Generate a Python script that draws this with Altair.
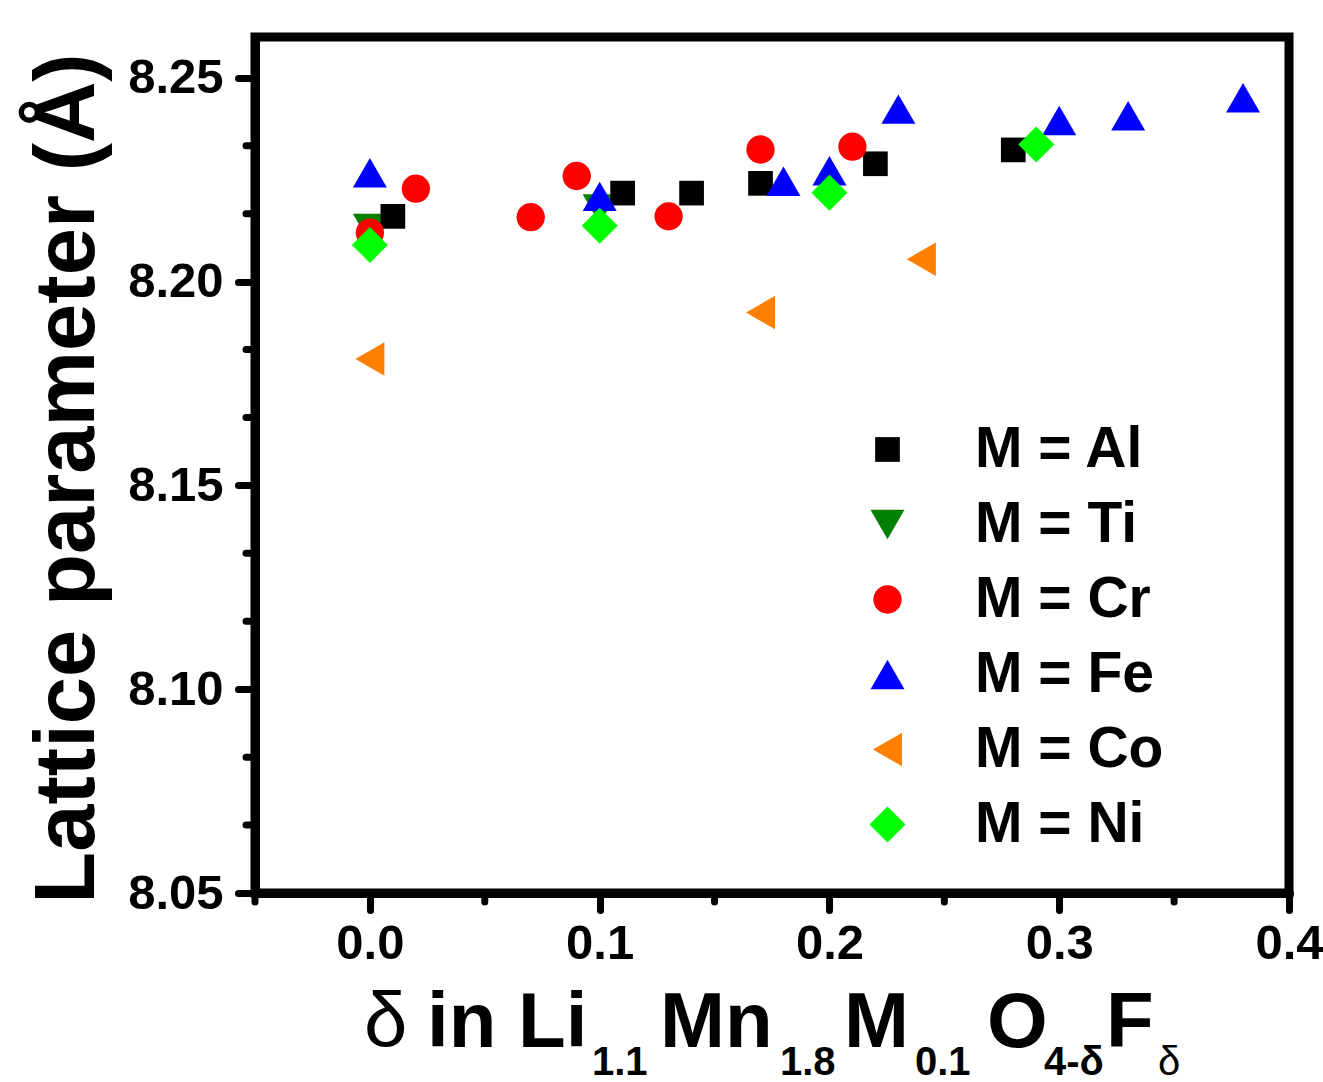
import altair as alt
import pandas as pd

# ---------------- data ----------------
series_legend = ["M = Al", "M = Ti", "M = Cr", "M = Fe", "M = Co", "M = Ni"]
draw_order = ["M = Ti", "M = Al", "M = Cr", "M = Fe", "M = Co", "M = Ni"]
colors = ["#000000", "#008000", "#FF0000", "#0000FF", "#FF8000", "#00FF00"]

al_x = [0.01, 0.11, 0.14, 0.17, 0.22, 0.28]
al_y = [8.2160, 8.2217, 8.2217, 8.2241, 8.2289, 8.2323]
ti_x = [0.00, 0.10]
ti_y = [8.2130, 8.2178]
cr_x = [0.00, 0.02, 0.07, 0.09, 0.13, 0.17, 0.21]
cr_y = [8.2120, 8.2228, 8.2158, 8.2259, 8.2160, 8.2324, 8.2331]
fe_x = [0.00, 0.10, 0.18, 0.20, 0.23, 0.30, 0.33, 0.38]
fe_y = [8.2267, 8.2209, 8.2246, 8.2272, 8.2423, 8.2395, 8.2407, 8.2451]
co_x = [0.00, 0.17, 0.24]
co_y = [8.1810, 8.1924, 8.2055]
ni_x = [0.00, 0.10, 0.20, 0.29]
ni_y = [8.2090, 8.2137, 8.2218, 8.2336]

x_major = [0.0, 0.1, 0.2, 0.3, 0.4]
x_minor = [-0.05, 0.05, 0.15, 0.25, 0.35]
y_major = [8.05, 8.10, 8.15, 8.20, 8.25]

# x-axis title pieces: text, subscript flag, bold flag
title_text = ["δ", "in Li", "1.1", "Mn", "1.8", "M", "0.1", "O", "4-δ", "F", "δ"]
title_sub = [0, 0, 1, 0, 1, 0, 1, 0, 1, 0, 1]
title_bold = [0, 1, 1, 1, 1, 1, 1, 1, 1, 1, 0]
title_left = [364, 427, 592, 660, 780, 844, 915, 987, 1044, 1106, 1158]

# ---------------- layout ----------------
PAD_L, PAD_T, PAD_R, PAD_B = 255, 37, 34, 189
W = 1323 - PAD_L - PAD_R
H = 1082 - PAD_T - PAD_B
FONT = "Liberation Sans"

# symbol paths (unit square [-1,1] scaled by sqrt(size)/2)
SYM = 1296
shapes = [
    "M-0.686,-0.686L0.686,-0.686L0.686,0.686L-0.686,0.686Z",
    "M0,0.817L0.944,-0.817L-0.944,-0.817Z",
    "M0.786,0A0.786,0.786,0,1,1,-0.786,0A0.786,0.786,0,1,1,0.786,0Z",
    "M0,-0.817L0.944,0.817L-0.944,0.817Z",
    "M-0.806,0L0.806,-0.93L0.806,0.93Z",
    "M-1,0L0,-1L1,0L0,1Z",
]

xs = {"M = Al": al_x, "M = Ti": ti_x, "M = Cr": cr_x, "M = Fe": fe_x, "M = Co": co_x, "M = Ni": ni_x}
ys = {"M = Al": al_y, "M = Ti": ti_y, "M = Cr": cr_y, "M = Fe": fe_y, "M = Co": co_y, "M = Ni": ni_y}
rows = []
for s in draw_order:
    for xv, yv in zip(xs[s], ys[s]):
        rows.append({"delta": xv, "a": yv, "series": s})
df = pd.DataFrame(rows)

y_minor = []
for lo, hi in zip(y_major[:-1], y_major[1:]):
    step = (hi - lo) / 3
    y_minor += [lo + step, lo + 2 * step]

x_scale = alt.Scale(domain=[-0.05, 0.4], nice=False, zero=False)
y_scale = alt.Scale(domain=[8.05, 8.26], nice=False, zero=False)

x_axis = alt.Axis(values=x_major, format=".1f", title=None, labelPadding=9)
y_axis = alt.Axis(
    values=y_major, format=".2f", title="Lattice parameter (Å)",
    titleFontSize=85, titleFont=FONT, titleFontWeight="bold", titleColor="black",
    titleX=-162, titleY=441, titleAngle=270, titleBaseline="alphabetic", titleAlign="center",
    labelPadding=15,
)

points = alt.Chart(df).mark_point(filled=True, opacity=1, strokeWidth=0, size=SYM).encode(
    x=alt.X("delta:Q", scale=x_scale, axis=x_axis),
    y=alt.Y("a:Q", scale=y_scale, axis=y_axis),
    color=alt.Color("series:N", scale=alt.Scale(domain=series_legend, range=colors), legend=alt.Legend(title=None)),
    shape=alt.Shape("series:N", scale=alt.Scale(domain=series_legend, range=shapes), legend=alt.Legend(title=None)),
)

ymin_rules = alt.Chart(pd.DataFrame({"v": y_minor})).mark_rule(
    color="black", strokeWidth=7, strokeCap="round"
).encode(y=alt.Y("v:Q", scale=y_scale, axis=y_axis), x=alt.value(0), x2=alt.value(-9))

xmin_rules = alt.Chart(pd.DataFrame({"v": x_minor})).mark_rule(
    color="black", strokeWidth=7, strokeCap="round"
).encode(x=alt.X("v:Q", scale=x_scale, axis=x_axis), y=alt.value(H), y2=alt.value(H + 9))

one = pd.DataFrame({"k": [0]})
title_layers = []
for t, sub, bold, left in zip(title_text, title_sub, title_bold, title_left):
    title_layers.append(
        alt.Chart(one).mark_text(
            text=t, align="left", baseline="alphabetic", font=FONT,
            fontSize=40 if sub else 78, fontWeight="bold" if bold else "normal", color="black",
        ).encode(x=alt.value(left - PAD_L), y=alt.value((1075 if sub else 1046.7) - PAD_T))
    )

chart = alt.layer(ymin_rules, xmin_rules, points, *title_layers).properties(
    width=W, height=H,
    padding={"left": PAD_L, "top": PAD_T, "right": PAD_R, "bottom": PAD_B},
    autosize=alt.AutoSizeParams(type="none"),
).configure_view(
    stroke="black", strokeWidth=9
).configure_axis(
    labelFont=FONT, labelFontWeight="bold", labelFontSize=49, labelColor="black",
    tickColor="black", tickWidth=7, tickSize=17, tickCap="round",
    domainColor="black", domainWidth=9, domainCap="round",
    grid=False, labelOverlap=False, labelFlush=False,
).configure_legend(
    orient="none", legendX=604, legendY=384, padding=0,
    labelFont=FONT, labelFontSize=57, labelFontWeight="bold", labelColor="black",
    labelOffset=59, rowPadding=17, symbolSize=SYM, symbolStrokeWidth=0, labelLimit=500,
)

chart.save("out.html", embed_options={"renderer": "svg", "actions": False})
